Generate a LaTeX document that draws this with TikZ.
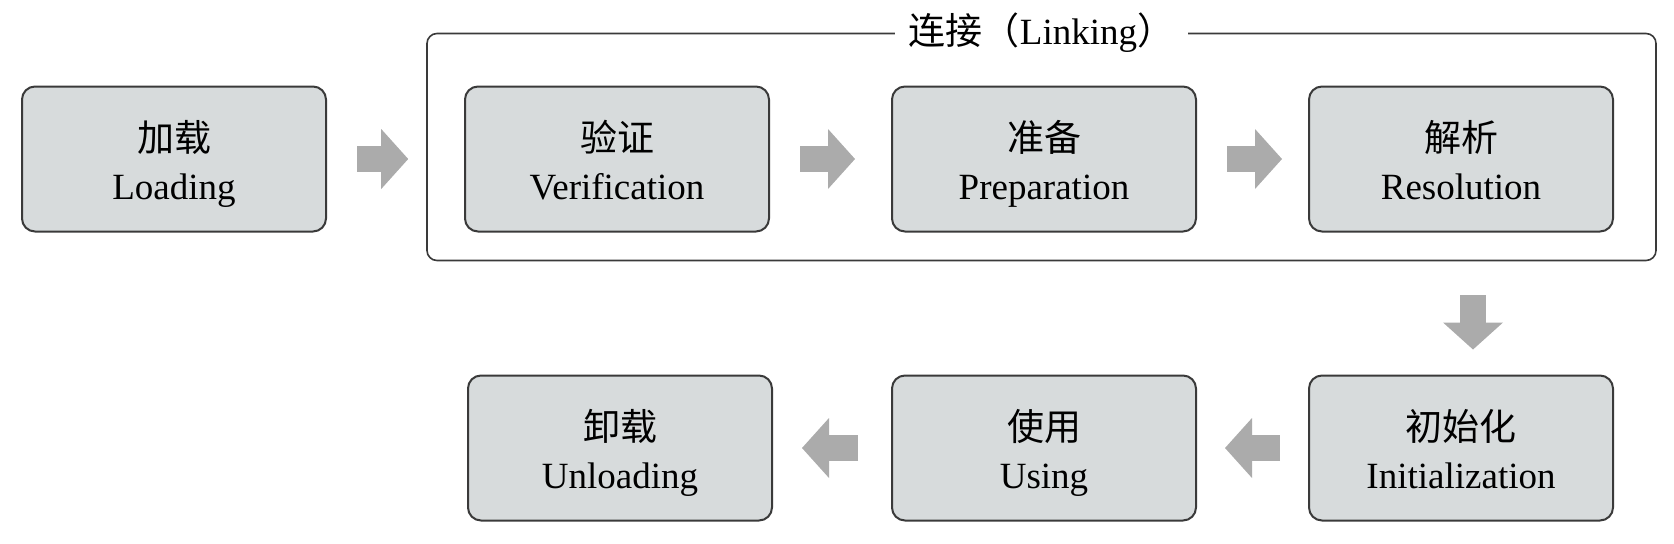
\documentclass[tikz,border=0pt]{standalone}
\usepackage{fontspec}
\setmainfont{Liberation Serif}
\newfontfamily\cjk{Noto Sans CJK SC}
\usetikzlibrary{positioning,calc,fit,arrows.meta}
\definecolor{boxfill}{HTML}{D7DBDC}
\definecolor{boxline}{HTML}{3A3A3A}
\definecolor{arrowgray}{HTML}{ABABAB}
\newcommand{\zh}[1]{{\cjk\fontsize{18.5}{24}\selectfont #1}}
\newcommand{\stagetext}[2]{\rule{0pt}{24pt}\zh{#1}\\#2\strut}
\tikzset{
  stage/.style={draw=boxline, line width=1pt, fill=boxfill, rounded corners=6.5pt,
    minimum width=152pt, minimum height=72.5pt, inner sep=0pt, align=center,
    font=\fontsize{18.5}{24}\selectfont},
  group/.style={draw=boxline, line width=0.8pt, rounded corners=5pt, inner sep=0pt},
  bigarrow/.style={draw=arrowgray, line width=13pt,
    -{Triangle[length=13.5pt,width=30pt,line width=0pt]}},
}
\begin{document}
\begin{tikzpicture}[x=0.5pt, y=0.5pt]
    \useasboundingbox (0,0) rectangle (1674,543);

    % 上排：加载与连接的三个阶段
    \node[stage] (load) at (174,384) {\stagetext{加载}{Loading}};
    \node[stage] (ver) at (617,384) {\stagetext{验证}{Verification}};
    \node[stage, right=60.5pt of ver] (prep) {\stagetext{准备}{Preparation}};
    \node[stage, right=55.5pt of prep] (res) {\stagetext{解析}{Resolution}};

    % 下排：初始化、使用、卸载
    \node[stage, below=71pt of res] (init) {\stagetext{初始化}{Initialization}};
    \node[stage, left=55.5pt of init] (use) {\stagetext{使用}{Using}};
    \node[stage, left=59pt of use] (unload) {\stagetext{卸载}{Unloading}};

    % 连接阶段的外框
    \coordinate (lnkSW) at ($(ver.south west)+(-37,-28)$);
    \coordinate (lnkNE) at ($(res.north east)+(42,52)$);
    \node[group, fit=(lnkSW)(lnkNE)] (lnk) {};
    \node[fill=white, inner xsep=7pt, font=\fontsize{18.5}{24}\selectfont] (lnkname)
        at (lnk.north) {\zh{连接（}Linking\zh{）}};

    % 粗箭头
    \draw[bigarrow, shorten <=15pt, shorten >=9pt] (load.east) -- (load.east -| lnk.west);
    \draw[bigarrow, shorten <=15pt, shorten >=18pt] (ver.east) -- (prep.west);
    \draw[bigarrow, shorten <=15pt, shorten >=13pt] (prep.east) -- (res.west);
    \draw[bigarrow, shorten <=17pt, shorten >=12.5pt]
        ([xshift=6pt]res.south |- lnk.south) -- ([xshift=6pt]init.north);
    \draw[bigarrow, shorten <=14pt, shorten >=14pt] (init.west) -- (use.east);
    \draw[bigarrow, shorten <=16.5pt, shorten >=14.5pt] (use.west) -- (unload.east);
\end{tikzpicture}
\end{document}
